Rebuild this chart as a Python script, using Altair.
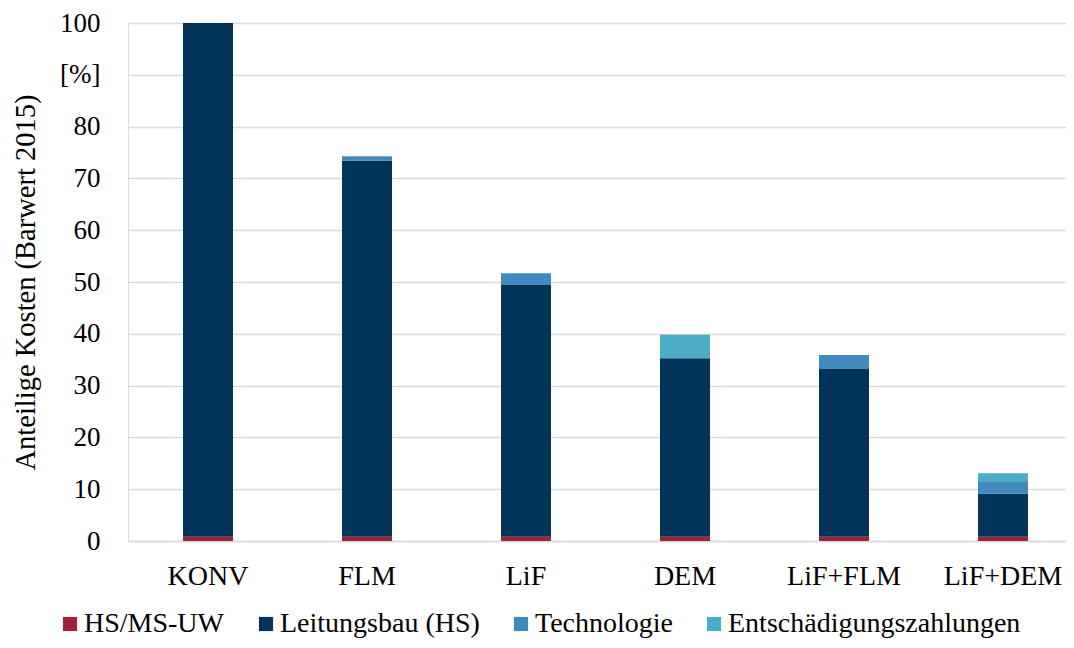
import altair as alt
import pandas as pd

categories = ["KONV", "FLM", "LiF", "DEM", "LiF+FLM", "LiF+DEM"]
series = ["HS/MS-UW", "Leitungsbau (HS)", "Technologie", "Entschädigungszahlungen"]
hs_ms_uw = [0.8, 0.8, 0.8, 0.8, 0.8, 0.8]
leitungsbau = [99.2, 72.6, 48.6, 34.5, 32.4, 8.3]
technologie = [0.0, 0.9, 2.3, 0.0, 2.7, 2.3]
entschaedigung = [0.0, 0.0, 0.0, 4.5, 0.0, 1.7]
colors = ["#9E2338", "#02345A", "#4289BE", "#4BADC6"]

rows = []
for i, c in enumerate(categories):
    for j, (s, vals) in enumerate(zip(series, [hs_ms_uw, leitungsbau, technologie, entschaedigung])):
        rows.append({"Kategorie": c, "Serie": s, "Wert": vals[i], "ord": j})
df = pd.DataFrame(rows)

font = "Liberation Serif"

chart = alt.Chart(df).mark_bar(stroke=None).encode(
    x=alt.X("Kategorie:N", sort=categories, title=None,
            scale=alt.Scale(paddingInner=0.6855, paddingOuter=0.346, range=[0, 955]),
            axis=alt.Axis(labelAngle=0, labelFontSize=28, labelFont=font, labelColor="#000000",
                          ticks=False, domain=True, domainColor="#D9D9D9", domainWidth=1.5,
                          labelPadding=21, grid=False)),
    y=alt.Y("Wert:Q", stack="zero", title="Anteilige Kosten (Barwert 2015)",
            scale=alt.Scale(domain=[0, 100], nice=False),
            axis=alt.Axis(values=list(range(0, 101, 10)),
                          labelExpr="datum.value == 90 ? '[%]' : datum.label",
                          labelFontSize=27, labelFont=font, labelColor="#000000",
                          titleFontSize=28.5, titleFont=font, titleFontWeight="normal", titleColor="#000000",
                          titlePadding=19,
                          ticks=False, domain=False, grid=True, gridColor="#D9D9D9", gridWidth=1.5,
                          labelPadding=28)),
    color=alt.Color("Serie:N", sort=series,
                    scale=alt.Scale(domain=series, range=colors),
                    legend=alt.Legend(title=None, orient="none", direction="horizontal",
                                      legendX=-72, legendY=587,
                                      labelFontSize=28, labelFont=font, labelColor="#000000",
                                      labelLimit=0,
                                      symbolType="square", symbolSize=200, symbolStrokeWidth=0,
                                      columnPadding=27, labelOffset=0)),
    order=alt.Order("ord:Q", sort="ascending"),
).properties(
    width=938, height=518,
    autosize=alt.AutoSizeParams(type="none"),
    padding={"left": 120, "top": 15, "right": 0, "bottom": 99},
).configure_view(stroke=None).configure(background="white", font=font)

chart.save("out.html", embed_options={"renderer": "svg", "actions": False})
